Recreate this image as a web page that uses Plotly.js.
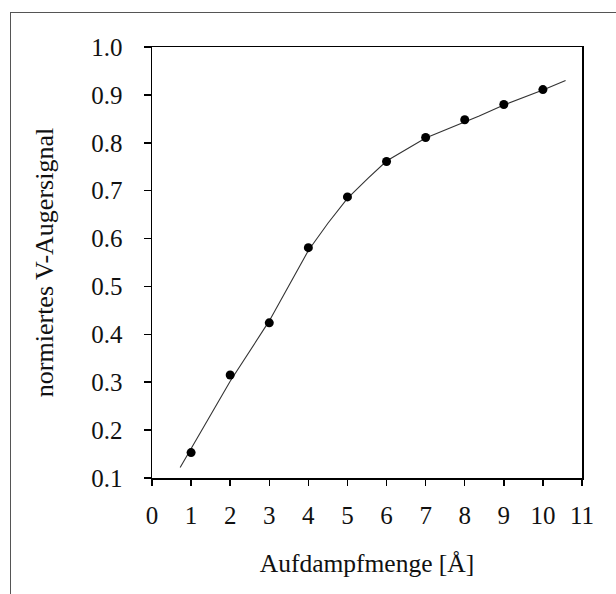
<!DOCTYPE html>
<html>
<head>
<meta charset="utf-8">
<script src="https://cdn.plot.ly/plotly-3.0.1.min.js"></script>
<style>
  html, body { margin: 0; padding: 0; background: #fff; }
  #wrap { position: relative; width: 616px; height: 594px; overflow: hidden; }
  #frame { position: absolute; left: 10px; top: 12px; width: 700px; height: 700px;
           border-left: 1.3px solid #555; border-top: 1.3px solid #555; pointer-events: none; z-index: 2; }
  #chart { position: absolute; left: 0; top: 0; width: 616px; height: 594px; }
</style>
</head>
<body>
<div id="wrap">
  <div id="chart"></div>
  <div id="frame"></div>
</div>
<script>
// Measured points
const doseX = [1, 2, 3, 4, 5, 6, 7, 8, 9, 10];
const signalY = [0.153, 0.315, 0.424, 0.581, 0.687, 0.761, 0.811, 0.848, 0.880, 0.911];

// Fitted curve
const fitX = [0.72, 2, 3, 4, 4.5, 5.0, 5.53, 6.0, 7.0, 8.37, 9.0, 10.0, 10.58];
const fitY = [0.122, 0.302, 0.428, 0.575, 0.632, 0.684, 0.726, 0.762, 0.810, 0.856, 0.879, 0.910, 0.930];

const xTicks = [0, 1, 2, 3, 4, 5, 6, 7, 8, 9, 10, 11];
const yTicks = [0.1, 0.2, 0.3, 0.4, 0.5, 0.6, 0.7, 0.8, 0.9, 1.0];

const xTitle = 'Aufdampfmenge [Å]';
const yTitle = 'normiertes V-Augersignal';

const FONT = 'Liberation Serif, Times New Roman, serif';

const traces = [
  {
    x: fitX, y: fitY, type: 'scatter', mode: 'lines',
    line: { color: '#333', width: 1.1 },
    hoverinfo: 'skip', showlegend: false
  },
  {
    x: doseX, y: signalY, type: 'scatter', mode: 'markers',
    marker: { color: '#000', size: 9 },
    showlegend: false
  }
];

const layout = {
  width: 616, height: 594,
  margin: { l: 152, r: 34, t: 47, b: 116, pad: 0 },
  paper_bgcolor: '#fff', plot_bgcolor: '#fff',
  font: { family: FONT, size: 25, color: '#111' },
  showlegend: false,
  xaxis: {
    range: [0, 11], tickvals: xTicks, ticktext: xTicks.map(String),
    showgrid: false, zeroline: false,
    showline: true, linecolor: '#000', linewidth: 1.5, mirror: true,
    ticks: 'outside', ticklen: 6, tickwidth: 1.5, tickcolor: '#000',
    ticklabelstandoff: 8,
    tickfont: { family: FONT, size: 25, color: '#111' },
    title: { text: xTitle, standoff: 26, font: { family: FONT, size: 25.5, color: '#111' } }
  },
  yaxis: {
    range: [0.1, 1.0], tickvals: yTicks, ticktext: yTicks.map(v => v.toFixed(1)),
    showgrid: false, zeroline: false,
    showline: true, linecolor: '#000', linewidth: 1.5, mirror: true,
    ticks: 'outside', ticklen: 7, tickwidth: 1.5, tickcolor: '#000',
    ticklabelstandoff: 16,
    tickfont: { family: FONT, size: 25, color: '#111' },
    title: { text: yTitle, standoff: 30, font: { family: FONT, size: 26, color: '#111' } }
  }
};

Plotly.newPlot('chart', traces, layout, { displayModeBar: false, staticPlot: true });
</script>
</body>
</html>
